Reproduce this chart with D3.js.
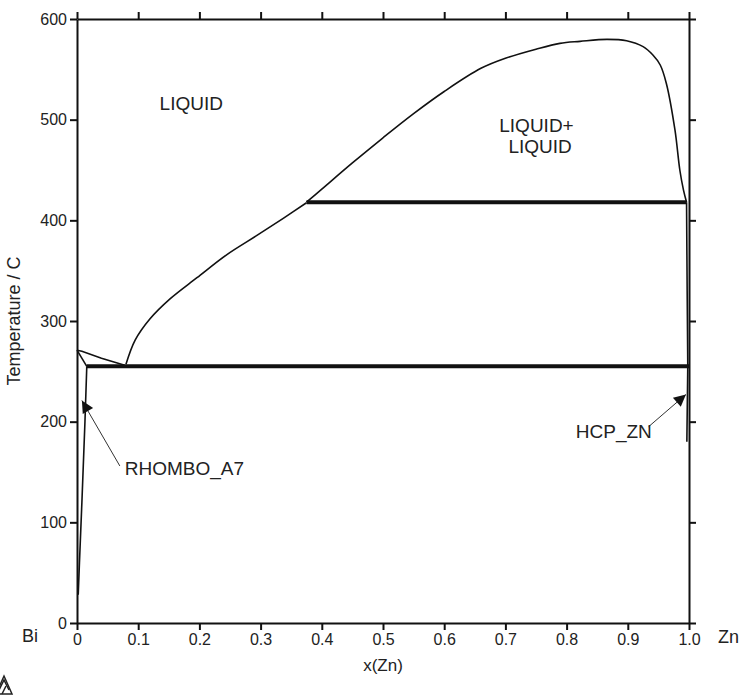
<!DOCTYPE html>
<html lang="en">
<head>
<meta charset="UTF-8">
<title>Bi-Zn phase diagram</title>
<script src="https://d3js.org/d3.v7.min.js"></script>
<style>
  body { margin: 0; background: #fff; font-family: "Liberation Sans", Arial, sans-serif; }
  .curve { fill: none; stroke: #111; stroke-width: 1.6; }
  .thick { fill: none; stroke: #111; stroke-width: 4; }
  .axis path, .axis line { stroke: #111; stroke-width: 2; }
  .axis text { font-family: "Liberation Sans", Arial, sans-serif; font-size: 16px; fill: #222; }
  .lbl { font-size: 19px; fill: #222; }
</style>
</head>
<body>
<svg width="745" height="695"></svg>
<script>
// tick values and labels
const xTicks = [0, 0.1, 0.2, 0.3, 0.4, 0.5, 0.6, 0.7, 0.8, 0.9, 1.0];
const xTickLabels = ["0", "0.1", "0.2", "0.3", "0.4", "0.5", "0.6", "0.7", "0.8", "0.9", "1.0"];
const yTicks = [0, 100, 200, 300, 400, 500, 600];

// phase boundaries, [x(Zn), T in C]
const liquidusBi = [[0, 271], [0.008, 270], [0.04, 263], [0.078, 256]];
const solidusBi = [[0, 271], [0.016, 255]];
const solvusBi = [[0.016, 255], [0.013, 200], [0.008, 120], [0.004, 60], [0.002, 28]];
const liquidusZnRich = [[0.080, 257], [0.095, 281], [0.119, 302], [0.152, 322], [0.196, 343],
  [0.245, 366], [0.294, 385], [0.337, 402], [0.375, 417.5]];
const gap = [[0.375, 418], [0.4, 431], [0.45, 457], [0.5, 482], [0.55, 506], [0.6, 528], [0.66, 551],
  [0.7, 561], [0.75, 570], [0.789, 575.8], [0.822, 577.8], [0.866, 579.8], [0.898, 578.4],
  [0.925, 572.5], [0.941, 564.2], [0.953, 554.3], [0.963, 536], [0.977, 490], [0.985, 450],
  [0.991, 430], [0.996, 418]];
const znSide = [[0.996, 418], [0.997, 330], [0.998, 255], [0.9965, 180]];
const monotectic = [[0.375, 418], [0.996, 418]];
const eutectic = [[0.016, 255], [1.0, 255]];

// arrows: [from, to]
const arrowRhombo = [[0.070, 156], [0.008, 221]];
const arrowHcp = [[0.934, 195], [0.995, 227]];

const margin = { top: 19, left: 77 };
const width = 612, height = 604;

const svg = d3.select("svg");
const g = svg.append("g").attr("transform", `translate(${margin.left},${margin.top})`);

const x = d3.scaleLinear().domain([0, 1]).range([0, width]);
const y = d3.scaleLinear().domain([0, 600]).range([height, 0]);

svg.append("defs").append("marker")
  .attr("id", "head")
  .attr("viewBox", "0 0 10 10")
  .attr("refX", 10).attr("refY", 5)
  .attr("markerWidth", 16).attr("markerHeight", 12)
  .attr("markerUnits", "userSpaceOnUse")
  .attr("orient", "auto")
  .append("path").attr("d", "M0,0 L10,5 L0,10 Z").attr("fill", "#111");

g.append("g").attr("class", "axis")
  .call(d3.axisLeft(y).tickValues(yTicks).tickSize(7).tickSizeOuter(0).tickPadding(3));
g.append("g").attr("class", "axis")
  .attr("transform", `translate(0,${height})`)
  .call(d3.axisBottom(x).tickValues(xTicks).tickFormat((d, i) => xTickLabels[i])
    .tickSize(7).tickSizeOuter(0).tickPadding(4));
g.append("g").attr("class", "axis")
  .call(d3.axisTop(x).tickValues(xTicks).tickFormat("").tickSize(7).tickSizeOuter(0));
g.append("g").attr("class", "axis")
  .attr("transform", `translate(${width},0)`)
  .call(d3.axisRight(y).tickValues(yTicks).tickFormat("").tickSize(7).tickSizeOuter(0));

const line = d3.line().x(d => x(d[0])).y(d => y(d[1]));
const smooth = d3.line().x(d => x(d[0])).y(d => y(d[1])).curve(d3.curveCatmullRom);

[liquidusBi, solidusBi, solvusBi, znSide].forEach(d =>
  g.append("path").attr("class", "curve").attr("d", line(d)));
[liquidusZnRich, gap].forEach(d =>
  g.append("path").attr("class", "curve").attr("d", smooth(d)));
[monotectic, eutectic].forEach(d =>
  g.append("path").attr("class", "thick").attr("d", line(d)));

[arrowRhombo, arrowHcp].forEach(a =>
  g.append("path").attr("d", line(a)).attr("stroke", "#333").attr("stroke-width", 1)
    .attr("fill", "none").attr("marker-end", "url(#head)"));

// region labels
const labels = [
  { t: "LIQUID", x: 0.135, y: 510 },
  { t: "LIQUID+", x: 0.69, y: 488 },
  { t: "LIQUID", x: 0.705, y: 467 },
  { t: "RHOMBO_A7", x: 0.078, y: 147 },
  { t: "HCP_ZN", x: 0.815, y: 184 }
];
g.selectAll(".lbl").data(labels).join("text")
  .attr("class", "lbl")
  .attr("x", d => x(d.x)).attr("y", d => y(d.y))
  .text(d => d.t);

svg.append("text").attr("x", 22).attr("y", 642).attr("font-size", 18).attr("fill", "#222").text("Bi");
svg.append("text").attr("x", 718).attr("y", 643).attr("font-size", 18).attr("fill", "#222").text("Zn");
svg.append("text").attr("x", margin.left + width / 2).attr("y", 671)
  .attr("text-anchor", "middle").attr("font-size", 17).attr("fill", "#222").text("x(Zn)");
svg.append("text")
  .attr("transform", `translate(20,${margin.top + 302}) rotate(-90)`)
  .attr("text-anchor", "middle").attr("font-size", 18).attr("fill", "#222").text("Temperature / C");

// logo corner
const logo = svg.append("g").attr("fill", "none").attr("stroke", "#222").attr("stroke-width", 1.5);
logo.append("path").attr("d", "M-4,694 L4,676 L12,694 Z");
logo.append("path").attr("d", "M-1,690 L4,680 L9,690");
logo.append("path").attr("d", "M2,694 L6,686");
</script>
</body>
</html>
